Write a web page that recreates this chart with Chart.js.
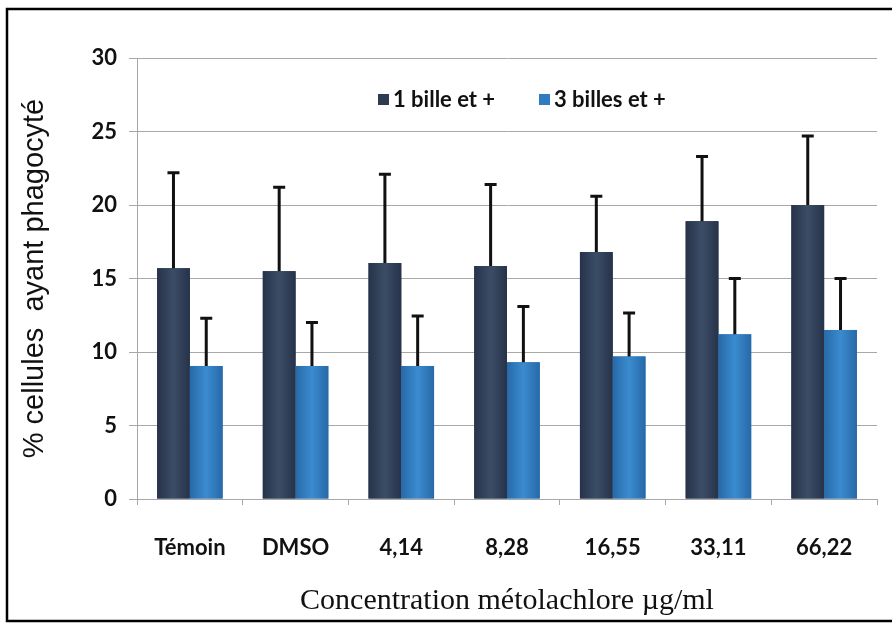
<!DOCTYPE html>
<html>
<head>
<meta charset="utf-8">
<title>Phagocytose</title>
<script src="https://cdn.jsdelivr.net/npm/chart.js@4.4.1/dist/chart.umd.min.js"></script>
<style>
  html, body { margin: 0; padding: 0; background: #fff; }
  #wrap { width: 892px; height: 623px; }
</style>
</head>
<body>
<div id="wrap"><canvas id="phago"></canvas></div>
<script>
let concentrations = ['Témoin', 'DMSO', '4,14', '8,28', '16,55', '33,11', '66,22'];
let unBille = [15.7, 15.5, 16.05, 15.85, 16.8, 18.9, 20.0];
let unBilleEcart = [6.5, 5.7, 6.05, 5.55, 3.8, 4.4, 4.7];
let troisBilles = [9.05, 9.05, 9.05, 9.3, 9.7, 11.2, 11.5];
let troisBillesEcart = [3.25, 2.95, 3.4, 3.8, 2.95, 3.8, 3.5];
let yTicks = [0, 5, 10, 15, 20, 25, 30];

let couleurs = ['#2e3c51', '#2f7cc0'];
let ecarts = [unBilleEcart, troisBillesEcart];

// barres avec un léger dégradé horizontal (style Excel)
const degradeBarres = {
    id: 'degradeBarres',
    afterDatasetsDraw(chart) {
        const ctx = chart.ctx;
        const teintes = [['#26334a', '#3b4d66', '#26334a'], ['#2769a8', '#3b8bd0', '#2769a8']];
        chart.data.datasets.forEach((ds, i) => {
            chart.getDatasetMeta(i).data.forEach(bar => {
                const x0 = bar.x - bar.width / 2;
                const g = ctx.createLinearGradient(x0, 0, x0 + bar.width, 0);
                g.addColorStop(0, teintes[i][0]);
                g.addColorStop(0.5, teintes[i][1]);
                g.addColorStop(1, teintes[i][2]);
                ctx.save();
                ctx.fillStyle = g;
                ctx.fillRect(x0, bar.y, bar.width, bar.base - bar.y);
                ctx.restore();
            });
        });
    }
};

// barres d'erreur (vers le haut seulement)
const barresErreur = {
    id: 'barresErreur',
    afterDatasetsDraw(chart) {
        const ctx = chart.ctx;
        const y = chart.scales.y;
        ctx.save();
        ctx.strokeStyle = '#111';
        ctx.lineWidth = 3;
        chart.data.datasets.forEach((ds, i) => {
            chart.getDatasetMeta(i).data.forEach((bar, j) => {
                const haut = y.getPixelForValue(ds.data[j] + ecarts[i][j]);
                ctx.beginPath();
                ctx.moveTo(bar.x, bar.y);
                ctx.lineTo(bar.x, haut);
                ctx.moveTo(bar.x - 6, haut);
                ctx.lineTo(bar.x + 6, haut);
                ctx.stroke();
            });
        });
        ctx.restore();
    }
};

// légende dans la zone du graphique + cadre
const legendeCadre = {
    id: 'legendeCadre',
    afterDraw(chart) {
        const ctx = chart.ctx;
        ctx.save();
        ctx.font = 'bold 22px Lato';
        ctx.textBaseline = 'middle';
        ctx.fillStyle = '#111';
        let pos = [378, 539];
        chart.data.datasets.forEach((ds, i) => {
            ctx.fillStyle = couleurs[i];
            ctx.fillRect(pos[i], 94, 11, 11);
            ctx.fillStyle = '#111';
            ctx.fillText(ds.label, pos[i] + 15, 100);
        });
        ctx.strokeStyle = '#000';
        ctx.lineWidth = 2.5;
        ctx.beginPath();
        ctx.moveTo(892, 9);
        ctx.lineTo(7, 9);
        ctx.lineTo(7, 621);
        ctx.lineTo(892, 621);
        ctx.stroke();
        ctx.restore();
    }
};

let graf = new Chart(document.getElementById('phago'), {
    type: 'bar',
    data: {
        labels: concentrations,
        datasets: [{
            label: '1 bille et +',
            data: unBille,
            backgroundColor: couleurs[0]
        }, {
            label: '3 billes et +',
            data: troisBilles,
            backgroundColor: couleurs[1]
        }]
    },
    options: {
        responsive: true,
        maintainAspectRatio: false,
        animation: false,
        layout: { padding: { left: 0, top: 58, right: 15, bottom: 0 } },
        datasets: { bar: { categoryPercentage: 0.62, barPercentage: 1 } },
        plugins: {
            legend: { display: false },
            tooltip: { enabled: false }
        },
        scales: {
            x: {
                afterFit: s => { s.height = 124; },
                grid: { drawOnChartArea: false, tickLength: 6, color: '#a8a8a8' },
                border: { color: '#a8a8a8' },
                ticks: { color: '#111', font: { family: 'Lato', size: 22, weight: 'bold' }, padding: 30 },
                title: {
                    display: true,
                    text: 'Concentration métolachlore µg/ml',
                    color: '#111',
                    font: { family: 'Liberation Serif', size: 30 },
                    padding: { top: 0, bottom: 4 }
                }
            },
            y: {
                min: 0,
                max: 30,
                afterFit: s => { s.width = 137; },
                afterBuildTicks: s => { s.ticks = yTicks.map(v => ({ value: v })); },
                grid: { tickLength: 8, color: '#a8a8a8' },
                border: { color: '#a8a8a8' },
                ticks: { color: '#111', font: { family: 'Lato', size: 22, weight: 'bold' }, padding: 12 },
                title: {
                    display: true,
                    text: '% cellules  ayant phagocyté',
                    color: '#111',
                    font: { family: 'Liberation Sans', size: 29 },
                    padding: { top: 18, bottom: 0 }
                }
            }
        }
    },
    plugins: [degradeBarres, barresErreur, legendeCadre]
});
</script>
</body>
</html>
